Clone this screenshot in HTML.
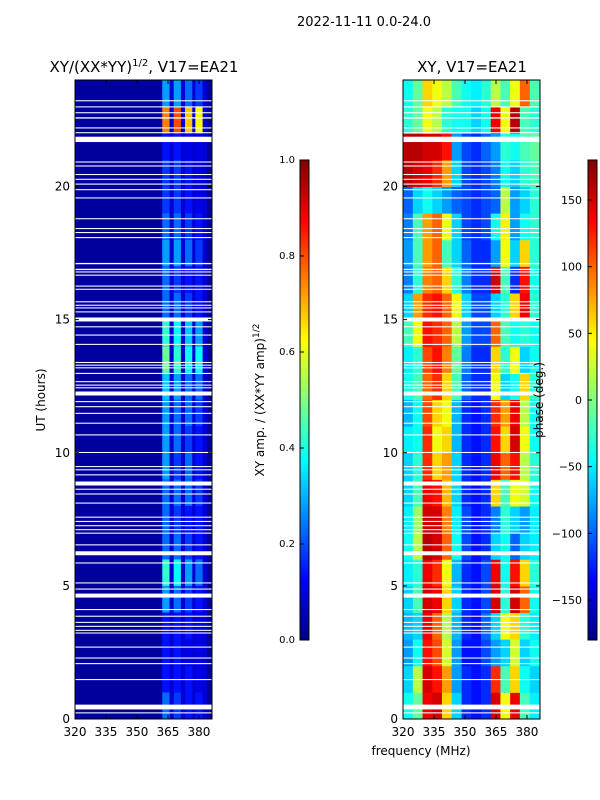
<!DOCTYPE html>
<html><head><meta charset="utf-8"><style>
body{margin:0;background:#fff;}
svg{display:block;font-family:"DejaVu Sans","Liberation Sans",sans-serif;}
</style></head><body>
<svg id="fig" width="600" height="800" viewBox="0 0 600 800">
<text x="364" y="26" font-size="13" text-anchor="middle">2022-11-11 0.0-24.0</text>
<text x="144" y="72" font-size="15" text-anchor="middle">XY/(XX*YY)<tspan font-size="10" dy="-6">1/2</tspan><tspan dy="6">, V17=EA21</tspan></text>
<text x="472" y="72" font-size="15" text-anchor="middle">XY, V17=EA21</text>
<g id="left"></g>
<g id="right"></g>
<g id="axes"></g>
<text x="421" y="755" font-size="12" text-anchor="middle">frequency (MHz)</text>
<text transform="translate(45,400) rotate(-90)" font-size="12" text-anchor="middle">UT (hours)</text>
<g id="cb1"></g>
<g id="cb2"></g>
<text transform="translate(264,400) rotate(-90)" font-size="12" text-anchor="middle">XY amp. / (XX*YY amp)<tspan font-size="9" dy="-5">1/2</tspan></text>
<text transform="translate(543,400) rotate(-90)" font-size="12" text-anchor="middle">phase (deg.)</text>
<g id="cbticks"></g>
</svg>
<script>
// ---- data ----
const hours = [0,1,2,3,4,5,6,7,8,9,10,11,12,13,14,15,16,17,18,19,20,21,22,23];
const ampBandCenters = [364, 369.5, 375, 380];
const ampBackground = 0.03;
const ampBand1 = [0.23,0.14,0.14,0.14,0.28,0.42,0.23,0.23,0.23,0.28,0.28,0.28,0.32,0.48,0.42,0.23,0.23,0.28,0.23,0.18,0.18,0.14,0.75,0.28];
const ampBand2 = [0.18,0.14,0.14,0.14,0.23,0.38,0.23,0.18,0.23,0.18,0.23,0.23,0.28,0.42,0.38,0.23,0.18,0.28,0.23,0.18,0.18,0.14,0.8,0.28];
const ampBand3 = [0.14,0.14,0.1,0.14,0.18,0.28,0.18,0.14,0.23,0.23,0.18,0.23,0.23,0.38,0.32,0.18,0.14,0.23,0.18,0.14,0.14,0.1,0.68,0.23];
const ampBand4 = [0.14,0.1,0.1,0.1,0.14,0.23,0.14,0.14,0.18,0.14,0.14,0.18,0.23,0.38,0.28,0.14,0.14,0.18,0.14,0.1,0.1,0.1,0.62,0.18];
const phaseFreqs = [322.4,327.1,331.8,336.5,341.2,345.9,350.7,355.4,360.1,364.8,369.5,374.2,378.9,383.7];
const phaseRows = [
[-40,-10,140,150,60,-60,-120,-130,-120,150,40,140,-20,-50],
[-60,20,150,130,80,-80,-120,-130,-120,120,-20,60,-40,-60],
[-80,-40,130,110,30,-80,-130,-130,-110,-80,-60,30,-60,-40],
[-70,-60,140,100,20,-70,-120,-130,-100,-60,40,60,-30,-50],
[-60,-20,150,140,60,-60,-120,-130,-110,150,-30,150,100,-40],
[-50,-30,140,120,40,-70,-120,-130,-110,140,-40,130,60,-30],
[-40,20,160,150,100,-40,-110,-130,-120,-60,-40,-100,-60,-50],
[-50,10,150,150,90,-50,-110,-130,-120,-90,-30,-60,-80,-50],
[-60,-20,140,130,70,-60,-120,-130,-120,60,-20,40,30,-40],
[-60,-30,120,60,80,-60,-120,-130,-120,140,100,130,20,-30],
[-50,-40,120,40,60,-70,-120,-130,-120,130,60,150,40,-40],
[-70,-40,110,60,40,-70,-120,-130,-120,120,80,140,20,-40],
[-40,-20,100,120,60,-20,-100,-120,-120,40,-60,-40,60,-30],
[-50,-30,110,130,90,-10,-90,-120,-120,60,-30,40,-60,-40],
[-20,40,130,120,100,20,-80,-110,-110,100,-20,-40,-30,-40],
[-60,80,120,130,100,40,-60,-110,-110,-60,-30,60,140,-30],
[-90,-30,90,100,60,-30,-90,-120,-120,150,-20,-120,130,-40],
[-80,-20,80,100,-20,-60,-100,-120,-120,-80,40,-60,60,-30],
[-90,-20,80,100,40,-60,-110,-120,-110,-40,50,-80,-40,-30],
[-100,-60,-40,-60,-80,-100,-110,-120,-110,-100,20,-80,-60,-30],
[160,150,140,120,80,-60,-110,-120,-110,-90,-40,-60,-30,-20],
[160,160,150,150,130,-80,-110,-120,-100,-80,-30,-40,-20,-10],
[-30,-10,40,20,-30,-40,-40,-60,-40,140,40,160,-20,-30],
[-40,-10,60,40,20,-20,-40,-50,-30,20,-20,40,100,-20]];
const gapHours = [23.2,22.97,22.75,22.55,22.18,22.0,21.67,20.9,20.75,20.43,20.25,20.07,19.86,19.55,18.77,18.4,18.25,18.06,17.08,16.86,16.77,16.65,16.24,16.12,15.65,15.52,15.42,15.27,14.93,14.71,14.4,14.05,13.37,13.27,13.17,12.96,12.65,12.52,12.42,12.15,11.9,11.71,11.46,11.09,10.65,9.99,9.46,9.34,9.15,8.77,8.61,8.43,8.09,7.56,7.4,7.24,7.09,6.96,6.52,6.15,5.84,5.09,4.86,4.56,4.09,3.84,3.61,3.46,3.31,3.21,2.68,2.27,2.06,1.46,0.36,0.21];
const gapDur = [0.04,0.04,0.04,0.05,0.04,0.04,0.2,0.04,0.04,0.04,0.04,0.04,0.04,0.04,0.04,0.04,0.04,0.04,0.05,0.05,0.04,0.04,0.04,0.04,0.04,0.04,0.04,0.04,0.15,0.04,0.04,0.04,0.04,0.04,0.04,0.04,0.04,0.04,0.04,0.15,0.04,0.04,0.04,0.04,0.04,0.04,0.04,0.04,0.04,0.15,0.04,0.04,0.04,0.04,0.04,0.04,0.04,0.04,0.04,0.15,0.04,0.04,0.04,0.15,0.04,0.04,0.04,0.04,0.04,0.04,0.04,0.04,0.04,0.04,0.18,0.04];
const xTicks = [320,335,350,365,380];
const yTicks = [0,5,10,15,20];
const ampTicks = [0.0,0.2,0.4,0.6,0.8,1.0];
const phaseTicks = [-150,-100,-50,0,50,100,150];

// ---- scales ----
const NS='http://www.w3.org/2000/svg';
const XMIN=320,XMAX=386.3,YMIN=0,YMAX=24,TOP=80,BOT=719;
const panels=[{x0:75,x1:212},{x0:403,x1:540}];
function sx(p,f){return p.x0+(f-XMIN)/(XMAX-XMIN)*(p.x1-p.x0);}
function sy(h){return BOT-(h-YMIN)/(YMAX-YMIN)*(BOT-TOP);}
function jet(v){v=Math.max(0,Math.min(1,v));
 const r=Math.max(0,Math.min(1,1.5-Math.abs(4*v-3))),g=Math.max(0,Math.min(1,1.5-Math.abs(4*v-2))),b=Math.max(0,Math.min(1,1.5-Math.abs(4*v-1)));
 return 'rgb('+Math.round(r*255)+','+Math.round(g*255)+','+Math.round(b*255)+')';}
function mk(parent,tag,attrs){const e=document.createElementNS(NS,tag);for(const k in attrs)e.setAttribute(k,attrs[k]);parent.appendChild(e);return e;}

// left: amplitude
const L=document.getElementById('left'),P0=panels[0];
let bg=mk(L,'rect',{x:P0.x0,y:TOP,width:P0.x1-P0.x0,height:BOT-TOP,fill:jet(ampBackground)});


let mid=mk(L,'rect',{x:sx(P0,362),y:TOP,width:sx(P0,384)-sx(P0,362),height:BOT-TOP,fill:jet(0.08)});


const bands=[ampBand1,ampBand2,ampBand3,ampBand4];
bands.forEach((arr,bi)=>{arr.forEach((v,hi)=>{
 const c=ampBandCenters[bi];
 const r=mk(L,'rect',{x:sx(P0,c-1.75),y:sy(hours[hi]+1),width:sx(P0,c+1.75)-sx(P0,c-1.75),height:sy(hours[hi])-sy(hours[hi]+1),fill:jet(v)});
 
 
});});
// right: phase
const R=document.getElementById('right'),P1=panels[1];
const dF=phaseFreqs[1]-phaseFreqs[0];
phaseRows.forEach((row,hi)=>{row.forEach((v,ci)=>{
 const f=phaseFreqs[ci];
 const r=mk(R,'rect',{x:sx(P1,f-dF/2),y:sy(hours[hi]+1),width:sx(P1,f+dF/2)-sx(P1,f-dF/2)+0.5,height:sy(hours[hi])-sy(hours[hi]+1)+0.5,fill:jet((v+180)/360)});
 
 
});});
// gaps
const A=document.getElementById('axes');
panels.forEach(p=>{gapHours.forEach((h,i)=>{
 const r=mk(A,'rect',{x:p.x0,y:sy(h+gapDur[i]),width:p.x1-p.x0,height:Math.max(1,sy(h)-sy(h+gapDur[i])),fill:'#fff'});
 
 
});});
// frames & ticks
panels.forEach((p,pi)=>{
 const fr=mk(A,'rect',{x:p.x0,y:TOP,width:p.x1-p.x0,height:BOT-TOP,fill:'none',stroke:'#000','stroke-width':1});
 
 
 xTicks.forEach(t=>{const x=sx(p,t);
  mk(A,'line',{x1:x,y1:BOT,x2:x,y2:BOT-4,stroke:'#000'});mk(A,'line',{x1:x,y1:TOP,x2:x,y2:TOP+4,stroke:'#000'});
  const tx=mk(A,'text',{x:x,y:BOT+17,'font-size':12,'text-anchor':'middle'});tx.textContent=t;
  
  
 });
 yTicks.forEach(t=>{const y=sy(t);
  mk(A,'line',{x1:p.x0,y1:y,x2:p.x0+4,y2:y,stroke:'#000'});mk(A,'line',{x1:p.x1,y1:y,x2:p.x1-4,y2:y,stroke:'#000'});
  const tx=mk(A,'text',{x:p.x0-5,y:y+4,'font-size':12,'text-anchor':'end'});tx.textContent=t;
  
  
 });
});
// colorbars
[['cb1',300],['cb2',588]].forEach(([id,x])=>{
 const g=document.getElementById(id);
 for(let i=0;i<120;i++){
  const s=mk(g,'rect',{x:x,y:640-(i+1)*4,width:9,height:4.3,fill:jet((i+0.5)/120)});
  
  
 }
 const f=mk(g,'rect',{x:x,y:160,width:9,height:480,fill:'none',stroke:'#000'});
 
 
});
const C=document.getElementById('cbticks');
ampTicks.forEach(t=>{const y=640-t*480;
 mk(C,'line',{x1:300,y1:y,x2:304,y2:y,stroke:'#000'});
 const tx=mk(C,'text',{x:295,y:y+3,'font-size':10,'text-anchor':'end'});tx.textContent=t.toFixed(1);
 
 
});
phaseTicks.forEach(t=>{const y=400-t*480/360;
 mk(C,'line',{x1:588,y1:y,x2:592,y2:y,stroke:'#000'});
 const tx=mk(C,'text',{x:582,y:y+4,'font-size':11,'text-anchor':'end'});tx.textContent=(t<0?'\u2212'+(-t):t);
 
 
});
</script>
</body></html>
